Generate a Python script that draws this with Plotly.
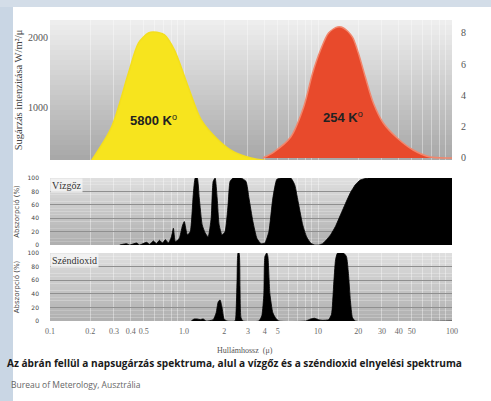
import plotly.graph_objects as go

W, H = 491, 401

# ---------------- data ----------------
# Solar (5800 K) spectrum, left axis W/m2/micron
sun_wl = [0.18, 0.198, 0.288, 0.385, 0.458, 0.543, 0.592, 0.715, 0.847, 1.076, 1.344, 1.80, 2.36, 3.16, 4.08]
sun_val = [120, 214, 729, 1500, 1929, 2071, 2086, 2043, 1829, 1300, 829, 543, 371, 286, 250]

# Earth (254 K) spectrum, right axis
earth_wl = [3.88, 4.68, 6.26, 7.82, 9.12, 10.45, 11.99, 13.99, 15.49, 18.07, 20.0, 22.55, 25.88, 30.7, 39.0, 51.3, 68.5, 91.6, 100]
earth_val = [0.0, 0.38, 1.34, 3.26, 5.44, 6.91, 8.0, 8.38, 8.32, 7.74, 6.72, 5.18, 3.52, 2.24, 1.28, 0.51, 0.06, 0.0, 0.0]

# Water vapour absorption (%)
h2o_wl = [0.331, 0.373, 0.393, 0.443, 0.466, 0.525, 0.553, 0.592, 0.623, 0.656, 0.690, 0.726, 0.765,
          0.805, 0.833, 0.862, 0.923, 0.971, 1.005, 1.059, 1.114, 1.172, 1.213, 1.256, 1.300, 1.367,
          1.439, 1.514, 1.595, 1.651, 1.708, 1.768, 1.829, 1.923, 2.026, 2.133, 2.208, 2.323, 2.663,
          2.902, 3.053, 3.268, 3.499, 3.749, 4.015, 4.300, 4.603, 4.930, 5.278, 6.26, 6.70, 7.18, 7.69,
          8.23, 8.81, 9.44, 10.10, 10.82, 11.58, 12.40, 13.52, 14.72, 16.03, 17.45, 19.0, 20.7, 23.8, 100]
h2o_abs = [0, 2, 0, 3, 0, 4, 1, 6, 2, 7, 3, 8, 3,
           12, 25, 5, 10, 28, 35, 15, 20, 75, 100, 100, 70, 30,
           18, 12, 40, 95, 100, 70, 30, 15, 20, 60, 95, 100, 100,
           95, 70, 35, 10, 2, 3, 20, 70, 98, 100, 100, 90, 60, 30,
           12, 3, 0, 0, 2, 8, 15, 28, 45, 62, 78, 90, 97, 100, 100]

# Carbon dioxide absorption (%)
co2_wl = [1.133, 1.191, 1.256, 1.321, 1.390, 1.465, 1.651, 1.738, 1.799, 1.858, 1.923, 1.991, 2.094,
          2.404, 2.443, 2.489, 2.529, 2.576, 2.618, 2.661, 2.754, 3.622, 3.811, 3.945, 4.015, 4.150,
          4.227, 4.375, 4.603, 4.842, 5.105, 8.09, 8.81, 9.44, 10.10, 10.82, 12.0, 12.62, 13.06, 13.52,
          14.0, 15.49, 16.29, 16.87, 17.45, 18.07, 19.0, 100]
co2_abs = [0, 3, 3, 2, 3, 0, 2, 12, 28, 31, 20, 3, 0,
           0, 10, 60, 100, 100, 50, 5, 0, 0, 8, 40, 95, 100,
           95, 40, 12, 4, 0, 0, 3, 4, 2, 1, 2, 10, 50, 90,
           100, 100, 95, 70, 30, 5, 0, 0]

x_tick_vals = [0.1, 0.2, 0.3, 0.4, 0.5, 1, 2, 3, 4, 5, 10, 20, 30, 40, 50, 100]
x_tick_text = ["0.1", "0.2", "0.3", "0.4", "0.5", "1.0", "2", "3", "4", "5", "10", "20", "30", "40", "50", "100"]
minor_vals = [0.6, 0.7, 0.8, 0.9, 6, 7, 8, 9, 60, 70, 80, 90]
abs_ticks = [0, 20, 40, 60, 80, 100]

# ---------------- layout helpers ----------------
def px_x(p):
    return p / W

def px_y(p):
    return 1 - p / H

XD = [px_x(50), px_x(452)]
TOP = [px_y(160), px_y(20)]
MID = [px_y(245), px_y(178)]
BOT = [px_y(321), px_y(253)]

fig = go.Figure()

fig.add_trace(go.Scatter(x=sun_wl, y=sun_val, xaxis="x", yaxis="y", mode="lines",
                         line=dict(color="#f4df1c", width=1.5, shape="spline", smoothing=0.8),
                         fill="tozeroy", fillcolor="#f7e41e", showlegend=False))
fig.add_trace(go.Scatter(x=earth_wl, y=earth_val, xaxis="x", yaxis="y2", mode="lines",
                         line=dict(color="#f2866c", width=1.5, shape="spline", smoothing=0.8),
                         fill="tozeroy", fillcolor="#e84a2c", showlegend=False))
fig.add_trace(go.Scatter(x=h2o_wl, y=h2o_abs, xaxis="x2", yaxis="y3", mode="lines",
                         line=dict(color="#000", width=0.8, shape="spline", smoothing=0.5),
                         fill="tozeroy", fillcolor="#000", showlegend=False))
fig.add_trace(go.Scatter(x=co2_wl, y=co2_abs, xaxis="x3", yaxis="y4", mode="lines",
                         line=dict(color="#000", width=0.8, shape="spline", smoothing=0.5),
                         fill="tozeroy", fillcolor="#000", showlegend=False))

shapes = []
# page decoration
shapes.append(dict(type="rect", xref="paper", yref="paper", x0=0, x1=px_x(13), y0=0, y1=1,
                   fillcolor="#c9d6e4", line_width=0, layer="below"))
shapes.append(dict(type="rect", xref="paper", yref="paper", x0=0, x1=1, y0=px_y(7), y1=1,
                   fillcolor="#d3dde8", line_width=0, layer="below"))

def grad(xr, yr, c_top, c_bot, n=28):
    out = []
    for i in range(n):
        t = i / (n - 1)
        c = tuple(int(round(c_top[k] + (c_bot[k] - c_top[k]) * t)) for k in range(3))
        out.append(dict(type="rect", xref=xr + " domain", yref=yr + " domain", x0=0, x1=1,
                        y0=1 - (i + 1) / n, y1=1 - i / n,
                        fillcolor="rgb(%d,%d,%d)" % c, line_width=0, layer="below"))
    return out

shapes += grad("x", "y", (238, 238, 238), (168, 168, 168))
shapes += grad("x2", "y3", (222, 222, 222), (176, 176, 176), 20)
shapes += grad("x3", "y4", (222, 222, 222), (176, 176, 176), 20)
fig.update_layout(shapes=shapes)

gridc = "rgba(255,255,255,0.38)"
xcommon = dict(type="log", range=[-1, 2], domain=XD, showline=False, zeroline=False,
               showgrid=True, gridcolor=gridc, gridwidth=1, automargin=False,
               tickvals=x_tick_vals, ticktext=x_tick_text, showticklabels=False, ticks="",
               minor=dict(tickvals=minor_vals, showgrid=True, gridcolor=gridc, ticks=""))

tickfont = dict(family="Liberation Serif", size=10, color="#555")
absfont = dict(family="DejaVu Sans", size=6, color="#444")

fig.update_layout(
    width=W, height=H, margin=dict(l=0, r=0, t=0, b=0, autoexpand=False),
    paper_bgcolor="white", plot_bgcolor="rgba(0,0,0,0)",
    xaxis=dict(xcommon, anchor="y"),
    xaxis2=dict(xcommon, anchor="y3"),
    xaxis3=dict(xcommon, anchor="y4", showticklabels=True,
                tickfont=dict(family="Liberation Serif", size=8, color="#666"), ticklabelstandoff=4),
    yaxis=dict(domain=TOP, range=[257, 2257], anchor="x", tickvals=[1000, 2000], automargin=False,
               showgrid=False, zeroline=False, tickfont=tickfont, ticks="", ticklabelstandoff=1,
               title=dict(text="Sugárzás intenzitása W/m²/μ", font=dict(family="Liberation Serif", size=10.5, color="#444"),
                          standoff=3)),
    yaxis2=dict(domain=TOP, range=[-0.13, 8.83], anchor="x", overlaying="y", side="right", automargin=False,
                tickvals=[0, 2, 4, 6, 8], showgrid=False, zeroline=False, ticks="",
                tickfont=tickfont, ticklabelstandoff=8),
    yaxis3=dict(domain=MID, range=[0, 100], anchor="x2", tickvals=abs_ticks, showgrid=True, automargin=False,
                gridcolor="#8f8f8f", gridwidth=1, zeroline=False, tickfont=absfont, ticks="",
                ticklabelstandoff=10,
                title=dict(text="Abszorpció (%)", font=dict(family="DejaVu Sans", size=7, color="#444"), standoff=7)),
    yaxis4=dict(domain=BOT, range=[0, 100], anchor="x3", tickvals=abs_ticks, showgrid=True, automargin=False,
                gridcolor="#8f8f8f", gridwidth=1, zeroline=False, tickfont=absfont, ticks="",
                ticklabelstandoff=10,
                title=dict(text="Abszorpció (%)", font=dict(family="DejaVu Sans", size=7, color="#444"), standoff=7)),
)

ann = [
    dict(text="<b>5800 K</b><sup>o</sup>", x=-0.23, y=829, xref="x", yref="y",
         showarrow=False, font=dict(family="Liberation Sans", size=13, color="#222")),
    dict(text="<b>254 K</b><sup>o</sup>", x=1.19, y=2.62, xref="x", yref="y2",
         showarrow=False, font=dict(family="Liberation Sans", size=13, color="#222")),
    dict(text="Vízgőz", x=0.0, y=1.0, xref="x2 domain", yref="y3 domain", xanchor="left", yanchor="top",
         showarrow=False, bgcolor="rgba(245,245,245,0.85)", borderpad=1,
         font=dict(family="Liberation Serif", size=10, color="#333")),
    dict(text="Széndioxid", x=0.0, y=1.0, xref="x3 domain", yref="y4 domain", xanchor="left", yanchor="top",
         showarrow=False, bgcolor="rgba(245,245,245,0.85)", borderpad=1,
         font=dict(family="Liberation Serif", size=10, color="#333")),
    dict(text="Hullámhossz  (μ)", x=px_x(245), y=px_y(357), xref="paper", yref="paper",
         showarrow=False, font=dict(family="Liberation Serif", size=8, color="#555")),
    dict(text="<b>Az ábrán fellül a napsugárzás spektruma, alul a vízgőz és a széndioxid elnyelési spektruma</b>",
         x=px_x(5), y=px_y(372), xref="paper", yref="paper", xanchor="left", showarrow=False,
         font=dict(family="Open Sans", size=10.1, color="#1a1a1a")),
    dict(text="Bureau of Meterology, Ausztrália", x=px_x(9), y=px_y(392), xref="paper", yref="paper",
         xanchor="left", showarrow=False, font=dict(family="Open Sans", size=8.5, color="#666")),
]
fig.update_layout(annotations=ann)

fig.write_html("out.html", config={"displayModeBar": False},
               post_script="document.body.style.margin='0';document.body.style.padding='0';")
